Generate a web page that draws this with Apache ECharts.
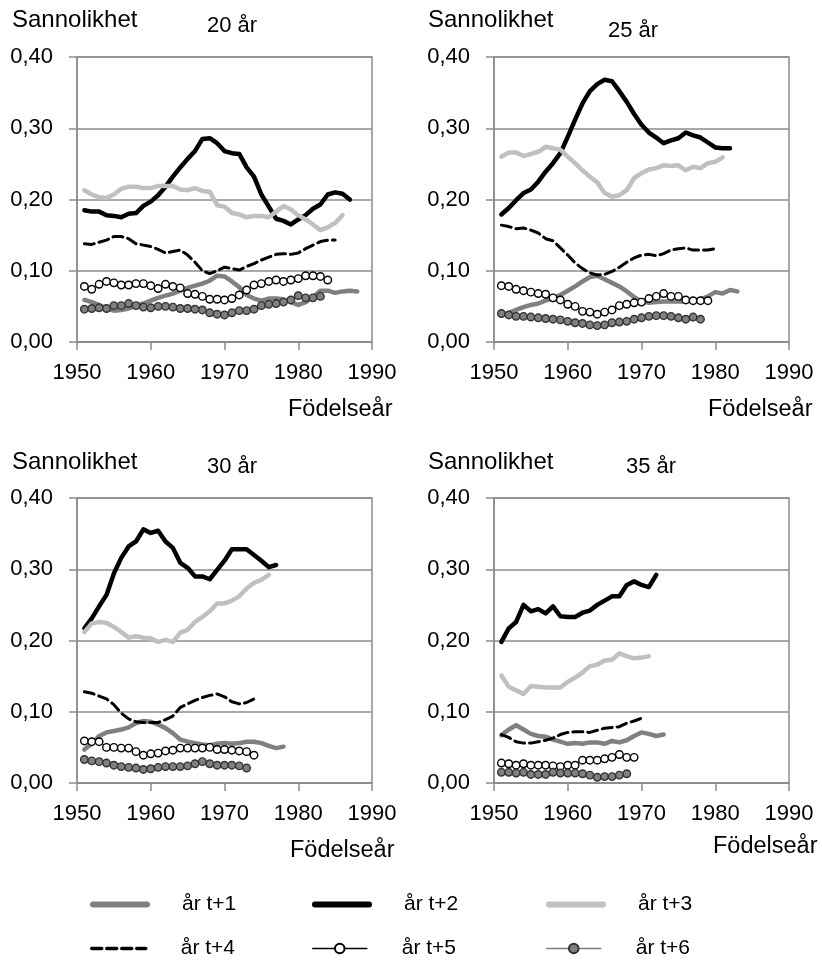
<!DOCTYPE html>
<html>
<head>
<meta charset="utf-8">
<script src="https://cdn.jsdelivr.net/npm/echarts@6/dist/echarts.min.js"></script>
<style>
  html, body { margin: 0; padding: 0; background: #fff; }
  #chart { width: 822px; height: 962px; }
</style>
</head>
<body>
<div id="chart"></div>
<script>
// all series start with birth year 1951, one value per year
var startYear = 1951;
var panelTitles = ["20 år", "25 år", "30 år", "35 år"];
var seriesNames = ["år t+1", "år t+2", "år t+3", "år t+4", "år t+5", "år t+6"];
var xTicks = [1950, 1960, 1970, 1980, 1990];
var yTicks = [0, 0.1, 0.2, 0.3, 0.4];

// 20 år
var p20_t1 = [0.059,0.056,0.052,0.047,0.044,0.045,0.047,0.051,0.054,0.058,0.062,0.065,0.068,0.072,0.076,0.079,0.082,0.086,0.093,0.092,0.085,0.077,0.066,0.061,0.058,0.061,0.061,0.060,0.056,0.052,0.056,0.063,0.072,0.072,0.069,0.071,0.072,0.071];
var p20_t2 = [0.185,0.183,0.183,0.178,0.177,0.175,0.180,0.181,0.191,0.197,0.206,0.218,0.232,0.245,0.257,0.268,0.285,0.286,0.279,0.268,0.265,0.264,0.245,0.232,0.207,0.190,0.173,0.170,0.165,0.172,0.178,0.187,0.193,0.207,0.210,0.208,0.200];
var p20_t3 = [0.213,0.207,0.203,0.202,0.207,0.215,0.218,0.218,0.216,0.216,0.219,0.219,0.219,0.214,0.213,0.216,0.212,0.211,0.192,0.190,0.181,0.179,0.175,0.177,0.177,0.175,0.183,0.191,0.186,0.178,0.172,0.165,0.157,0.161,0.167,0.178];
var p20_t4 = [0.138,0.137,0.140,0.143,0.148,0.148,0.145,0.138,0.136,0.134,0.130,0.125,0.127,0.129,0.122,0.112,0.100,0.096,0.100,0.105,0.103,0.101,0.106,0.110,0.115,0.119,0.123,0.124,0.123,0.125,0.131,0.136,0.141,0.143,0.143];
var p20_t5 = [0.078,0.074,0.081,0.085,0.083,0.080,0.080,0.082,0.082,0.079,0.075,0.081,0.078,0.076,0.068,0.067,0.064,0.060,0.060,0.059,0.061,0.066,0.073,0.080,0.082,0.085,0.087,0.085,0.087,0.089,0.093,0.093,0.092,0.087];
var p20_t6 = [0.046,0.047,0.048,0.047,0.051,0.051,0.054,0.051,0.049,0.048,0.050,0.050,0.049,0.047,0.047,0.046,0.045,0.041,0.039,0.038,0.041,0.044,0.044,0.046,0.051,0.053,0.054,0.056,0.059,0.065,0.062,0.062,0.064];

// 25 år
var p25_t1 = [0.037,0.041,0.045,0.049,0.052,0.054,0.058,0.062,0.066,0.072,0.078,0.085,0.091,0.093,0.088,0.083,0.078,0.071,0.063,0.057,0.055,0.056,0.057,0.057,0.057,0.057,0.058,0.060,0.064,0.070,0.068,0.073,0.071];
var p25_t2 = [0.179,0.188,0.199,0.209,0.214,0.225,0.239,0.251,0.265,0.288,0.312,0.335,0.352,0.362,0.368,0.366,0.352,0.337,0.320,0.305,0.294,0.287,0.279,0.283,0.286,0.294,0.290,0.287,0.280,0.273,0.272,0.272];
var p25_t3 = [0.260,0.266,0.266,0.261,0.264,0.267,0.274,0.272,0.270,0.260,0.251,0.241,0.232,0.224,0.209,0.204,0.206,0.213,0.230,0.237,0.242,0.244,0.248,0.247,0.248,0.241,0.246,0.244,0.251,0.253,0.259];
var p25_t4 = [0.164,0.162,0.159,0.160,0.157,0.153,0.145,0.142,0.132,0.122,0.111,0.103,0.097,0.094,0.095,0.099,0.105,0.112,0.118,0.122,0.123,0.121,0.124,0.129,0.131,0.132,0.129,0.129,0.129,0.131];
var p25_t5 = [0.079,0.078,0.074,0.072,0.070,0.068,0.067,0.062,0.059,0.053,0.050,0.043,0.042,0.039,0.042,0.045,0.051,0.053,0.055,0.056,0.061,0.064,0.068,0.064,0.064,0.059,0.058,0.058,0.058];
var p25_t6 = [0.040,0.038,0.036,0.036,0.035,0.034,0.033,0.032,0.031,0.029,0.027,0.026,0.024,0.023,0.024,0.027,0.028,0.029,0.032,0.034,0.036,0.037,0.037,0.036,0.034,0.032,0.035,0.032];

// 30 år
var p30_t1 = [0.047,0.055,0.066,0.071,0.073,0.075,0.078,0.084,0.087,0.086,0.082,0.077,0.070,0.061,0.058,0.056,0.054,0.053,0.055,0.056,0.055,0.056,0.058,0.058,0.056,0.052,0.049,0.051];
var p30_t2 = [0.217,0.231,0.248,0.264,0.294,0.316,0.332,0.339,0.356,0.351,0.354,0.339,0.330,0.309,0.302,0.290,0.290,0.286,0.299,0.312,0.328,0.328,0.328,0.320,0.312,0.303,0.306];
var p30_t3 = [0.212,0.224,0.226,0.225,0.219,0.212,0.204,0.206,0.204,0.203,0.198,0.201,0.198,0.211,0.215,0.226,0.233,0.241,0.252,0.252,0.256,0.262,0.273,0.281,0.285,0.292];
var p30_t4 = [0.128,0.126,0.122,0.118,0.110,0.098,0.090,0.086,0.085,0.085,0.085,0.089,0.094,0.106,0.111,0.116,0.120,0.123,0.125,0.121,0.114,0.111,0.113,0.118];
var p30_t5 = [0.059,0.058,0.058,0.050,0.050,0.049,0.049,0.044,0.039,0.041,0.042,0.045,0.046,0.049,0.049,0.049,0.049,0.050,0.047,0.047,0.046,0.045,0.044,0.039];
var p30_t6 = [0.033,0.031,0.030,0.028,0.025,0.023,0.022,0.021,0.019,0.020,0.022,0.023,0.023,0.023,0.024,0.027,0.030,0.027,0.025,0.025,0.025,0.024,0.021];

// 35 år
var p35_t1 = [0.067,0.075,0.081,0.075,0.069,0.066,0.065,0.061,0.058,0.055,0.056,0.055,0.057,0.057,0.055,0.059,0.057,0.060,0.066,0.071,0.069,0.066,0.068];
var p35_t2 = [0.198,0.217,0.226,0.250,0.241,0.244,0.238,0.248,0.234,0.233,0.233,0.239,0.242,0.250,0.256,0.262,0.262,0.278,0.283,0.278,0.275,0.292];
var p35_t3 = [0.151,0.135,0.130,0.125,0.136,0.135,0.134,0.134,0.134,0.142,0.148,0.155,0.164,0.166,0.172,0.173,0.182,0.178,0.175,0.176,0.178];
var p35_t4 = [0.068,0.064,0.058,0.056,0.056,0.058,0.060,0.063,0.068,0.071,0.072,0.072,0.071,0.074,0.077,0.078,0.079,0.084,0.087,0.091];
var p35_t5 = [0.028,0.027,0.025,0.027,0.025,0.025,0.025,0.024,0.023,0.025,0.025,0.032,0.032,0.032,0.034,0.036,0.040,0.036,0.036];
var p35_t6 = [0.015,0.015,0.014,0.015,0.012,0.012,0.012,0.015,0.014,0.014,0.014,0.013,0.011,0.008,0.009,0.009,0.011,0.013];

var panels = [
    [p20_t1, p20_t2, p20_t3, p20_t4, p20_t5, p20_t6],
    [p25_t1, p25_t2, p25_t3, p25_t4, p25_t5, p25_t6],
    [p30_t1, p30_t2, p30_t3, p30_t4, p30_t5, p30_t6],
    [p35_t1, p35_t2, p35_t3, p35_t4, p35_t5, p35_t6]
];

var font = "'Liberation Sans', Arial, sans-serif";
var axisGray = "#8c8c8c";
var gridBoxes = [
    {left: 77, top: 57},
    {left: 494, top: 57},
    {left: 77, top: 498},
    {left: 494, top: 498}
];
var styles = [
    {lineStyle: {color: "#808080", width: 4.5}},
    {lineStyle: {color: "#000000", width: 4.5}},
    {lineStyle: {color: "#c0c0c0", width: 4.5}},
    {lineStyle: {color: "#000000", width: 3, type: [10, 5]}},
    {lineStyle: {color: "#000000", width: 1}, symbol: "circle", itemStyle: {color: "#ffffff", borderColor: "#000000", borderWidth: 1.4}},
    {lineStyle: {color: "#808080", width: 1}, symbol: "circle", itemStyle: {color: "#808080", borderColor: "#333333", borderWidth: 1.4}}
];

function toPairs(arr) {
    let out = [];
    for (let i = 0; i < arr.length; i++) {
        out.push([startYear + i, arr[i]]);
    }
    return out;
}

function buildOption() {
    let grids = [], xAxes = [], yAxes = [], series = [], graphics = [];
    for (let p = 0; p < 4; p++) {
        grids.push({
            left: gridBoxes[p].left, top: gridBoxes[p].top, width: 295, height: 285,
            show: true, borderColor: axisGray, borderWidth: 1.5, backgroundColor: "transparent"
        });
        xAxes.push({
            type: "value", gridIndex: p, min: xTicks[0], max: xTicks[xTicks.length - 1], interval: 10,
            axisLine: {lineStyle: {color: axisGray, width: 1.5}},
            axisTick: {show: true, length: 8, lineStyle: {color: axisGray, width: 1.5}},
            splitLine: {show: false},
            axisLabel: {fontSize: 22, fontFamily: font, color: "#000", margin: 20, formatter: function (v) { return String(v); }}
        });
        yAxes.push({
            type: "value", gridIndex: p, min: yTicks[0], max: yTicks[yTicks.length - 1], interval: 0.1,
            axisLine: {show: true, lineStyle: {color: axisGray, width: 1.5}},
            axisTick: {show: true, length: 8, lineStyle: {color: axisGray, width: 1.5}},
            splitLine: {show: true, lineStyle: {color: axisGray, width: 1.5}},
            axisLabel: {fontSize: 22, fontFamily: font, color: "#000", margin: 24,
                formatter: function (v) { return v.toFixed(2).replace(".", ","); }}
        });
        for (let k = 0; k < 6; k++) {
            let s = styles[k];
            series.push({
                type: "line", name: seriesNames[k], xAxisIndex: p, yAxisIndex: p,
                data: toPairs(panels[p][k]),
                symbol: s.symbol || "none", symbolSize: 7.5, showAllSymbol: true,
                lineStyle: Object.assign({join: "round", cap: "round"}, s.lineStyle),
                itemStyle: s.itemStyle || {color: s.lineStyle.color},
                emphasis: {disabled: true}, silent: true, z: 2 + k
            });
        }
    }

    // panel texts
    let ylabelPos = [[12, 20], [428, 20], [12, 462], [428, 462]];
    let titlePos = [[232, 26], [633, 31], [232, 467], [651, 467]];
    let xnamePos = [[288, 410], [708, 410], [290, 851], [713, 847]];
    for (let p = 0; p < 4; p++) {
        graphics.push({type: "text", x: ylabelPos[p][0], y: ylabelPos[p][1],
            style: {text: "Sannolikhet", fontSize: 24, fontFamily: font, fill: "#000", textAlign: "left", textVerticalAlign: "middle"}});
        graphics.push({type: "text", x: titlePos[p][0], y: titlePos[p][1],
            style: {text: panelTitles[p], fontSize: 22, fontFamily: font, fill: "#000", textAlign: "center", textVerticalAlign: "middle"}});
        graphics.push({type: "text", x: xnamePos[p][0], y: xnamePos[p][1],
            style: {text: "Födelseår", fontSize: 23.5, fontFamily: font, fill: "#000", textAlign: "left", textVerticalAlign: "middle"}});
    }

    // legend: one small legend per item, three columns of two rows
    let legendLeft = [85, 307, 541, 85, 307, 541];
    let legendTop = [889, 889, 889, 933, 933, 933];
    let legendOrder = [0, 1, 2, 3, 4, 5];
    let legends = legendOrder.map(function (k, i) {
        let item = {name: seriesNames[k]};
        if (k < 4) {
            item.itemStyle = {opacity: 0};
            item.lineStyle = {width: k < 3 ? 6 : 3.5};
        } else {
            item.lineStyle = {width: 1.5};
        }
        return {
            data: [item], left: legendLeft[i], top: legendTop[i],
            itemWidth: 54, itemHeight: 12, selectedMode: false,
            lineStyle: {width: "inherit"},
            textStyle: {fontSize: 21, fontFamily: font, color: "#000", padding: [0, 0, 0, 30]}
        };
    });

    return {
        animation: false,
        backgroundColor: "#fff",
        grid: grids, xAxis: xAxes, yAxis: yAxes, series: series,
        legend: legends, graphic: graphics
    };
}

var chart = echarts.init(document.getElementById("chart"), null, {renderer: "canvas"});
chart.setOption(buildOption());
</script>
</body>
</html>
